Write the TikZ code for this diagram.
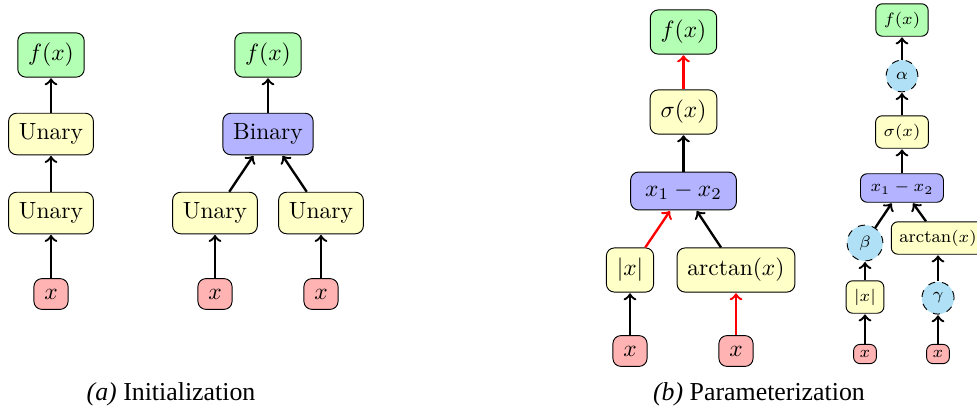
\documentclass[tikz,border=0pt]{standalone}
\usepackage{fontspec}
\newfontfamily\capfont{Liberation Serif}
\definecolor{cgreen}{RGB}{179,255,179}
\definecolor{cyel}{RGB}{255,255,200}
\definecolor{cblue}{RGB}{179,179,255}
\definecolor{cred}{RGB}{255,179,179}
\definecolor{ccyan}{RGB}{176,224,245}
\begin{document}
\begin{tikzpicture}[x=0.4255pt,y=-0.4255pt,
  box/.style={draw, rounded corners=3.4pt, inner sep=4.4pt, font=\normalsize},
  outb/.style={box, fill=cgreen},
  unab/.style={box, fill=cyel},
  binb/.style={box, fill=cblue},
  inb/.style={box, fill=cred},
  sm/.style={font=\fontsize{7.5}{9}\selectfont, inner sep=3.4pt, rounded corners=2.8pt},
  parb/.style={circle, draw, dashed, fill=ccyan, inner sep=2.6pt, minimum size=13.5pt, font=\fontsize{7.5}{9}\selectfont},
  arr/.style={->, line width=1pt, shorten >=0.3pt},
  rarr/.style={arr, red},
  capt/.style={inner sep=0pt}
]
\useasboundingbox (0,0) rectangle (977,408);
% (a) left
\node[outb] (a1f) at (51,55) {$f(x)$};
\node[unab] (a1u1) at (51,134) {Unary};
\node[unab] (a1u2) at (51,213) {Unary};
\node[inb] (a1x) at (51,294) {$x$};
\draw[arr] (a1u1) -- (a1f);
\draw[arr] (a1u2) -- (a1u1);
\draw[arr] (a1x) -- (a1u2);
% (a) right
\node[outb] (a2f) at (268,55) {$f(x)$};
\node[binb] (a2b) at (268,134) {Binary};
\node[unab] (a2ul) at (215,213) {Unary};
\node[unab] (a2ur) at (321,213) {Unary};
\node[inb] (a2xl) at (215,294) {$x$};
\node[inb] (a2xr) at (321,294) {$x$};
\draw[arr] (a2b) -- (a2f);
\draw[arr] (a2ul) -- (a2b);
\draw[arr] (a2ur) -- (a2b);
\draw[arr] (a2xl) -- (a2ul);
\draw[arr] (a2xr) -- (a2ur);
% (b) middle
\node[outb] (bf) at (683.5,32) {$f(x)$};
\node[unab] (bs) at (683.5,112) {$\sigma(x)$};
\node[binb, minimum width=45pt] (bd) at (683.5,191) {$x_1 - x_2$};
\node[unab] (ba) at (630,270) {$|x|$};
\node[unab] (bt) at (736,270) {$\arctan(x)$};
\node[inb] (bxl) at (630,351) {$x$};
\node[inb] (bxr) at (736,351) {$x$};
\draw[rarr] (bs) -- (bf);
\draw[arr] (bd) -- (bs);
\draw[rarr] (ba) -- (bd);
\draw[arr] (bt) -- (bd);
\draw[arr] (bxl) -- (ba);
\draw[rarr] (bxr) -- (bt);
% (b) right
\node[outb, sm] (cf) at (902,20) {$f(x)$};
\node[parb] (calpha) at (902,76) {$\alpha$};
\node[unab, sm] (cs) at (902,132) {$\sigma(x)$};
\node[binb, sm, minimum width=35.3pt] (cd) at (902,188) {$x_1 - x_2$};
\node[parb] (cbeta) at (865,243) {$\beta$};
\node[unab, sm] (ct) at (938,238) {$\arctan(x)$};
\node[unab, sm] (ca) at (865,297) {$|x|$};
\node[parb] (cgamma) at (938,298) {$\gamma$};
\node[inb, sm, inner sep=2.6pt] (cxl) at (865,354) {$x$};
\node[inb, sm, inner sep=2.6pt] (cxr) at (938,354) {$x$};
\draw[arr] (calpha) -- (cf);
\draw[arr] (cs) -- (calpha);
\draw[arr] (cd) -- (cs);
\draw[arr] (cbeta) -- (cd);
\draw[arr] (ct) -- (cd);
\draw[arr] (ca) -- (cbeta);
\draw[arr] (cgamma) -- (ct);
\draw[arr] (cxl) -- (ca);
\draw[arr] (cxr) -- (cgamma);
% captions
\node[capt] (capa) at (171,394) {\capfont\fontsize{11}{13}\selectfont \textit{(a)} Initialization};
\node[capt] (capb) at (759,394) {\capfont\fontsize{11}{13}\selectfont \textit{(b)} Parameterization};
\end{tikzpicture}
\end{document}
